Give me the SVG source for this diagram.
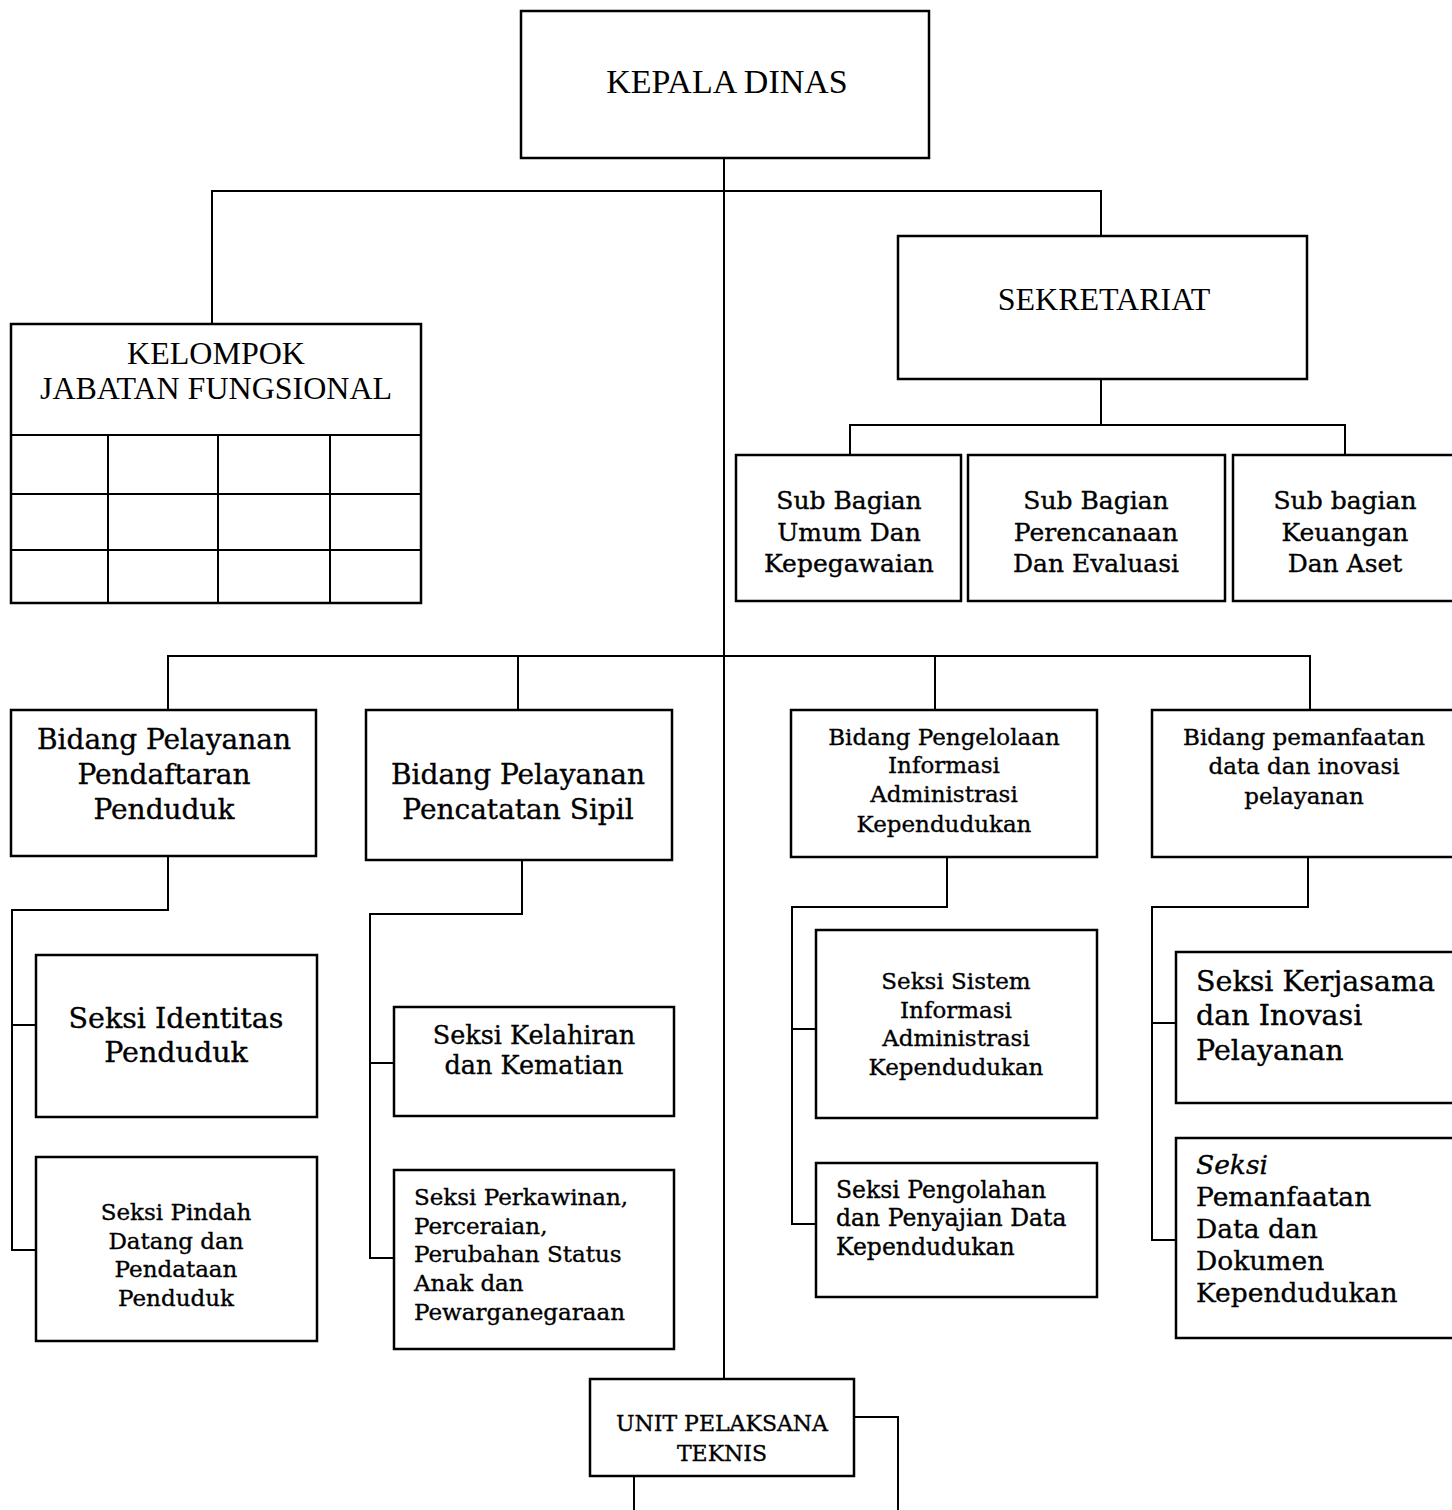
<svg xmlns="http://www.w3.org/2000/svg" width="1452" height="1510" viewBox="0 0 1452 1510">
<style>
.box{fill:#fff;stroke:#000;stroke-width:2.5}
.ln{fill:none;stroke:#000;stroke-width:2}
.cap{font-family:"Liberation Serif","Times New Roman",serif;fill:#000;text-anchor:middle}
.t{font-family:"DejaVu Serif","Liberation Serif",serif;fill:#000;stroke:#000;stroke-width:0.35}
.m{text-anchor:middle}
</style>
<rect width="1452" height="1510" fill="#fff"/>
<g id="connectors">
<path class="ln" d="M724 158 V1379"/>
<path class="ln" d="M212 324 V191 H1101 V236"/>
<path class="ln" d="M1101 379 V425 M850 455 V425 H1345 V455"/>
<path class="ln" d="M168 710 V656 H1310 V710 M518 656 V710 M935 656 V710"/>
<path class="ln" d="M168 856 V910 H12 V1250 H36 M12 1025 H36"/>
<path class="ln" d="M522 860 V914 H370 V1258 H394 M370 1063 H394"/>
<path class="ln" d="M947 857 V907 H792 V1224 H816 M792 1029 H816"/>
<path class="ln" d="M1308 857 V907 H1152 V1240 H1176 M1152 1023 H1176"/>
<path class="ln" d="M854 1417 H898 V1510 M634 1476 V1510"/>
</g>
<g id="kepala-dinas">
<rect class="box" x="521" y="11" width="408" height="147"/>
<text class="cap" x="727" y="93" font-size="34">KEPALA DINAS</text>
</g>
<g id="kelompok-jabatan-fungsional">
<rect class="box" x="11" y="324" width="410" height="279"/>
<path class="ln" d="M11 435 H421 M11 494 H421 M11 550 H421 M108 435 V603 M218 435 V603 M330 435 V603"/>
<text class="cap" x="216" y="364" font-size="32">KELOMPOK</text>
<text class="cap" x="216" y="399" font-size="32">JABATAN FUNGSIONAL</text>
</g>
<g id="sekretariat">
<rect class="box" x="898" y="236" width="409" height="143"/>
<text class="cap" x="1104" y="310" font-size="32">SEKRETARIAT</text>
</g>
<g id="sub-umum">
<rect class="box" x="736" y="455" width="225" height="146"/>
<text class="t m" font-size="25"><tspan x="849" y="509">Sub Bagian</tspan><tspan x="849" y="541">Umum Dan</tspan><tspan x="849" y="572">Kepegawaian</tspan></text>
</g>
<g id="sub-perencanaan">
<rect class="box" x="968" y="455" width="257" height="146"/>
<text class="t m" font-size="25"><tspan x="1096" y="509">Sub Bagian</tspan><tspan x="1096" y="541">Perencanaan</tspan><tspan x="1096" y="572">Dan Evaluasi</tspan></text>
</g>
<g id="sub-keuangan">
<rect class="box" x="1233" y="455" width="225" height="146"/>
<text class="t m" font-size="25"><tspan x="1345" y="509">Sub bagian</tspan><tspan x="1345" y="541">Keuangan</tspan><tspan x="1345" y="572">Dan Aset</tspan></text>
</g>
<g id="bidang-pendaftaran">
<rect class="box" x="11" y="710" width="305" height="146"/>
<text class="t m" font-size="28"><tspan x="164" y="749">Bidang Pelayanan</tspan><tspan x="164" y="784">Pendaftaran</tspan><tspan x="164" y="819">Penduduk</tspan></text>
</g>
<g id="bidang-pencatatan">
<rect class="box" x="366" y="710" width="306" height="150"/>
<text class="t m" font-size="28"><tspan x="518" y="784">Bidang Pelayanan</tspan><tspan x="518" y="819">Pencatatan Sipil</tspan></text>
</g>
<g id="bidang-pengelolaan">
<rect class="box" x="791" y="710" width="306" height="147"/>
<text class="t m" font-size="23"><tspan x="944" y="745">Bidang Pengelolaan</tspan><tspan x="944" y="773">Informasi</tspan><tspan x="944" y="802">Administrasi</tspan><tspan x="944" y="832">Kependudukan</tspan></text>
</g>
<g id="bidang-pemanfaatan">
<rect class="box" x="1152" y="710" width="306" height="147"/>
<text class="t m" font-size="23"><tspan x="1304" y="745">Bidang pemanfaatan</tspan><tspan x="1304" y="774">data dan inovasi</tspan><tspan x="1304" y="804">pelayanan</tspan></text>
</g>
<g id="seksi-identitas">
<rect class="box" x="36" y="955" width="281" height="162"/>
<text class="t m" font-size="28.5"><tspan x="176" y="1028">Seksi Identitas</tspan><tspan x="176" y="1062">Penduduk</tspan></text>
</g>
<g id="seksi-pindah">
<rect class="box" x="36" y="1157" width="281" height="184"/>
<text class="t m" font-size="23"><tspan x="176" y="1220">Seksi Pindah</tspan><tspan x="176" y="1249">Datang dan</tspan><tspan x="176" y="1277">Pendataan</tspan><tspan x="176" y="1306">Penduduk</tspan></text>
</g>
<g id="seksi-kelahiran">
<rect class="box" x="394" y="1007" width="280" height="109"/>
<text class="t m" font-size="25.5"><tspan x="534" y="1044">Seksi Kelahiran</tspan><tspan x="534" y="1074">dan Kematian</tspan></text>
</g>
<g id="seksi-perkawinan">
<rect class="box" x="394" y="1170" width="280" height="179"/>
<text class="t" font-size="23"><tspan x="414" y="1205">Seksi Perkawinan,</tspan><tspan x="414" y="1234">Perceraian,</tspan><tspan x="414" y="1262">Perubahan Status</tspan><tspan x="414" y="1291">Anak dan</tspan><tspan x="414" y="1320">Pewarganegaraan</tspan></text>
</g>
<g id="seksi-sistem">
<rect class="box" x="816" y="930" width="281" height="188"/>
<text class="t m" font-size="23"><tspan x="956" y="989">Seksi Sistem</tspan><tspan x="956" y="1018">Informasi</tspan><tspan x="956" y="1046">Administrasi</tspan><tspan x="956" y="1075">Kependudukan</tspan></text>
</g>
<g id="seksi-pengolahan">
<rect class="box" x="816" y="1163" width="281" height="134"/>
<text class="t" font-size="23.5"><tspan x="836" y="1198">Seksi Pengolahan</tspan><tspan x="836" y="1226">dan Penyajian Data</tspan><tspan x="836" y="1255">Kependudukan</tspan></text>
</g>
<g id="seksi-kerjasama">
<rect class="box" x="1176" y="952" width="282" height="151"/>
<text class="t" font-size="28.5"><tspan x="1196" y="991">Seksi Kerjasama</tspan><tspan x="1196" y="1025">dan Inovasi</tspan><tspan x="1196" y="1060">Pelayanan</tspan></text>
</g>
<g id="seksi-pemanfaatan">
<rect class="box" x="1176" y="1138" width="282" height="200"/>
<text class="t" font-size="26.5"><tspan x="1196" y="1174" font-style="italic">Seksi</tspan><tspan x="1196" y="1206">Pemanfaatan</tspan><tspan x="1196" y="1238">Data dan</tspan><tspan x="1196" y="1270">Dokumen</tspan><tspan x="1196" y="1302">Kependudukan</tspan></text>
</g>
<g id="unit-pelaksana-teknis">
<rect class="box" x="590" y="1379" width="264" height="97"/>
<text class="t m" font-size="22"><tspan x="722" y="1431">UNIT PELAKSANA</tspan><tspan x="722" y="1461">TEKNIS</tspan></text>
</g>
</svg>
